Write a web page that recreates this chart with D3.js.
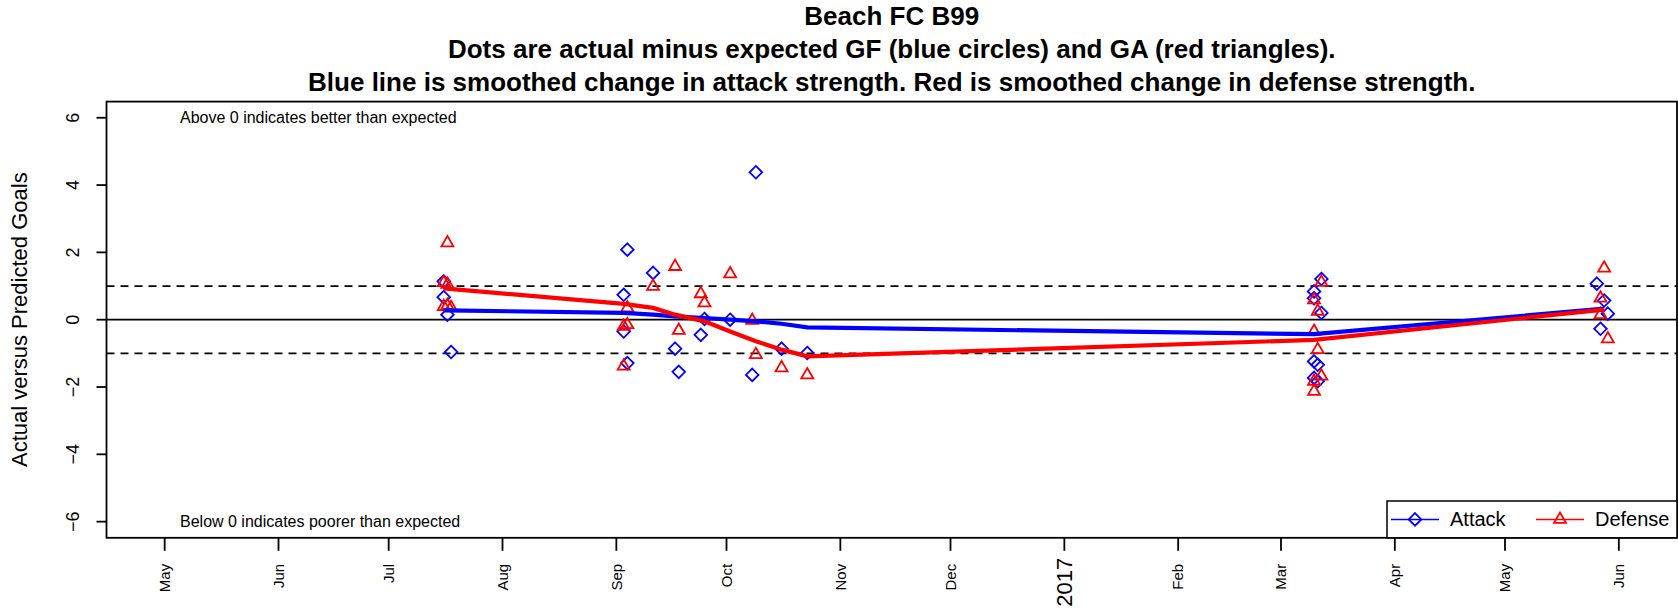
<!DOCTYPE html>
<html>
<head>
<meta charset="utf-8">
<script src="https://cdn.jsdelivr.net/npm/d3@7"></script>
<style>
html,body{margin:0;padding:0;background:#fff;}
svg{display:block;}
text{font-family:"Liberation Sans",Arial,Helvetica,sans-serif;}
</style>
</head>
<body>
<svg id="chart" width="1678" height="616"></svg>
<script>
// ---------------- data ----------------
const titleLines = [
  "Beach FC B99",
  "Dots are actual minus expected GF (blue circles) and GA (red triangles).",
  "Blue line is smoothed change in attack strength. Red is smoothed change in defense strength."
];
const yLabel = "Actual versus Predicted Goals";
const noteAbove = "Above 0 indicates better than expected";
const noteBelow = "Below 0 indicates poorer than expected";
const legendLabels = ["Attack", "Defense"];
const xLimits = ["2016-05-01", "2017-06-01"];
const yTicks = [-6, -4, -2, 0, 2, 4, 6];
const yLimits = [-6, 6];
const refLines = [1, -1];

const attackDates = ["2016-07-16","2016-07-16","2016-07-17","2016-07-18",
  "2016-09-03","2016-09-03","2016-09-04","2016-09-04","2016-09-11",
  "2016-09-17","2016-09-18","2016-09-24","2016-09-25","2016-10-02",
  "2016-10-08","2016-10-09","2016-10-16","2016-10-23",
  "2017-03-12","2017-03-10","2017-03-10","2017-03-12","2017-03-10","2017-03-11","2017-03-10","2017-03-11",
  "2017-05-26","2017-05-28","2017-05-29","2017-05-27"];
const attackValues = [1.14,0.67,0.15,-0.96,
  0.74,-0.35,2.08,-1.29,1.39,
  -0.86,-1.55,-0.45,0.02,0.0,
  -1.64,4.38,-0.86,-0.99,
  1.21,0.84,0.64,0.20,-1.24,-1.34,-1.73,-1.83,
  1.07,0.57,0.18,-0.27];

const defenseDates = ["2016-07-17","2016-07-16","2016-07-17","2016-07-16","2016-07-17","2016-07-18",
  "2016-09-03","2016-09-03","2016-09-04","2016-09-04","2016-09-11",
  "2016-09-17","2016-09-18","2016-09-24","2016-09-25","2016-10-02",
  "2016-10-08","2016-10-09","2016-10-16","2016-10-23",
  "2017-03-12","2017-03-10","2017-03-11","2017-03-10","2017-03-11","2017-03-12","2017-03-10","2017-03-10",
  "2017-05-28","2017-05-27","2017-05-27","2017-05-29"];
const defenseValues = [2.28,1.10,1.05,0.39,0.42,0.36,
  -0.20,-1.38,0.35,-0.15,0.99,
  1.58,-0.32,0.77,0.50,1.36,
  -0.02,-1.04,-1.43,-1.64,
  1.11,0.59,0.25,-0.35,-0.89,-1.68,-1.83,-2.13,
  1.53,0.64,0.15,-0.57];

const smoothDates = ["2016-07-16","2016-09-03","2016-09-11","2016-09-17","2016-09-25",
  "2016-10-02","2016-10-09","2016-10-16","2016-10-23","2017-03-10","2017-05-28"];
const attackSmooth = [0.28,0.20,0.15,0.10,0.05,0.00,-0.05,-0.12,-0.23,-0.43,0.33];
const defenseSmooth = [0.93,0.47,0.35,0.15,-0.05,-0.35,-0.64,-0.89,-1.09,-0.60,0.30];

// ---------------- layout ----------------
const parse = d3.utcParse("%Y-%m-%d");
const plot = {left: 106.5, right: 1677, top: 101.6, bottom: 537.8};
const svg = d3.select("#chart");

const x0 = parse(xLimits[0]), x1 = parse(xLimits[1]);
const xSpan = x1 - x0;
const x = d3.scaleUtc()
  .domain([new Date(+x0 - 0.04 * xSpan), new Date(+x1 + 0.04 * xSpan)])
  .range([plot.left, plot.right]);
const ySpan = yLimits[1] - yLimits[0];
const y = d3.scaleLinear()
  .domain([yLimits[0] - 0.04 * ySpan, yLimits[1] + 0.04 * ySpan])
  .range([plot.bottom, plot.top]);

const BLUE = "#0000ff", RED = "#ff0000";

// title
svg.append("g").selectAll("text").data(titleLines).join("text")
  .attr("x", (plot.left + plot.right) / 2)
  .attr("y", (d, i) => 16 + i * 33)
  .attr("dy", "0.35em")
  .attr("text-anchor", "middle")
  .attr("font-weight", "bold")
  .attr("font-size", 26)
  .text(d => d);

// clip
svg.append("defs").append("clipPath").attr("id", "clip")
  .append("rect").attr("x", plot.left).attr("y", plot.top)
  .attr("width", plot.right - plot.left).attr("height", plot.bottom - plot.top);

// reference lines
const g = svg.append("g").attr("clip-path", "url(#clip)");
g.append("line").attr("x1", plot.left).attr("x2", plot.right)
  .attr("y1", y(0)).attr("y2", y(0)).attr("stroke", "#000").attr("stroke-width", 1.8);
g.selectAll("line.ref").data(refLines).join("line").attr("class", "ref")
  .attr("x1", plot.left).attr("x2", plot.right)
  .attr("y1", d => y(d)).attr("y2", d => y(d))
  .attr("stroke", "#000").attr("stroke-width", 1.8).attr("stroke-dasharray", "8,6");

// markers
const diamond = r => `M0,${-r}L${r},0L0,${r}L${-r},0Z`;
const triangle = R => {
  const r = 1.555 * R, xc = 0.866 * r, yc = 0.5 * r;
  return `M0,${-r}L${xc},${yc}L${-xc},${yc}Z`;
};
const attackPts = attackDates.map((d, i) => ({date: parse(d), v: attackValues[i]}));
const defensePts = defenseDates.map((d, i) => ({date: parse(d), v: defenseValues[i]}));

g.selectAll("path.att").data(attackPts).join("path").attr("class", "att")
  .attr("transform", d => `translate(${x(d.date)},${y(d.v)})`)
  .attr("d", diamond(6.3)).attr("fill", "none").attr("stroke", BLUE).attr("stroke-width", 1.8);
g.selectAll("path.def").data(defensePts).join("path").attr("class", "def")
  .attr("transform", d => `translate(${x(d.date)},${y(d.v)})`)
  .attr("d", triangle(4.45)).attr("fill", "none").attr("stroke", RED).attr("stroke-width", 1.8);

// smoothed lines
const line = d3.line().x(d => x(d.date)).y(d => y(d.v));
g.append("path").datum(smoothDates.map((d, i) => ({date: parse(d), v: attackSmooth[i]})))
  .attr("d", line).attr("fill", "none").attr("stroke", BLUE).attr("stroke-width", 4.2);
g.append("path").datum(smoothDates.map((d, i) => ({date: parse(d), v: defenseSmooth[i]})))
  .attr("d", line).attr("fill", "none").attr("stroke", RED).attr("stroke-width", 4.2);

// notes
svg.append("text").attr("x", 180).attr("y", y(6)).attr("dy", "0.35em")
  .attr("font-size", 16).text(noteAbove);
svg.append("text").attr("x", 180).attr("y", y(-6)).attr("dy", "0.35em")
  .attr("font-size", 16).text(noteBelow);

// box
svg.append("rect").attr("x", plot.left).attr("y", plot.top)
  .attr("width", plot.right - plot.left).attr("height", plot.bottom - plot.top)
  .attr("fill", "none").attr("stroke", "#000").attr("stroke-width", 1.8);

// y axis
const yAxis = svg.append("g");
yAxis.selectAll("line").data(yTicks).join("line")
  .attr("x1", plot.left - 10).attr("x2", plot.left)
  .attr("y1", d => y(d)).attr("y2", d => y(d))
  .attr("stroke", "#000").attr("stroke-width", 1.8);
yAxis.selectAll("text").data(yTicks).join("text")
  .attr("transform", d => `translate(73,${y(d)}) rotate(-90)`)
  .attr("dy", "0.35em").attr("text-anchor", "middle").attr("font-size", 18)
  .text(d => d < 0 ? "\u2212" + Math.abs(d) : String(d));
svg.append("text").attr("transform", `translate(19,${(plot.top + plot.bottom) / 2}) rotate(-90)`)
  .attr("dy", "0.35em").attr("text-anchor", "middle").attr("font-size", 22).text(yLabel);

// x axis
const months = d3.utcMonth.range(x0, d3.utcDay.offset(x1, 1));
const isYear = d => d.getUTCMonth() === 0;
const fmt = d => isYear(d) ? d3.utcFormat("%Y")(d) : d3.utcFormat("%b")(d);
const xAxis = svg.append("g");
xAxis.selectAll("line").data(months).join("line")
  .attr("x1", d => x(d)).attr("x2", d => x(d))
  .attr("y1", plot.bottom).attr("y2", plot.bottom + 13)
  .attr("stroke", "#000").attr("stroke-width", 1.8);
xAxis.selectAll("text").data(months).join("text")
  .attr("transform", d => `translate(${x(d)},${plot.bottom + (isYear(d) ? 20 : 26)}) rotate(-90)`)
  .attr("dy", "0.35em").attr("text-anchor", "end").attr("font-size", d => isYear(d) ? 22 : 15)
  .text(fmt);

// legend
const lg = svg.append("g");
const lgBox = {x: 1387, y: 501, w: plot.right - 1387, h: plot.bottom - 501};
lg.append("rect").attr("x", lgBox.x).attr("y", lgBox.y).attr("width", lgBox.w).attr("height", lgBox.h)
  .attr("fill", "#fff").attr("stroke", "#000").attr("stroke-width", 1.5);
const cy = lgBox.y + lgBox.h / 2;
const items = [
  {label: legendLabels[0], color: BLUE, x: 1391, shape: diamond(6.3)},
  {label: legendLabels[1], color: RED, x: 1536, shape: triangle(4.45)}
];
items.forEach(it => {
  lg.append("line").attr("x1", it.x).attr("x2", it.x + 48).attr("y1", cy).attr("y2", cy)
    .attr("stroke", it.color).attr("stroke-width", 1.5);
  lg.append("path").attr("transform", `translate(${it.x + 24},${cy})`).attr("d", it.shape)
    .attr("fill", "none").attr("stroke", it.color).attr("stroke-width", 1.8);
  lg.append("text").attr("x", it.x + 59).attr("y", cy).attr("dy", "0.35em")
    .attr("font-size", 20).text(it.label);
});
</script>
</body>
</html>
